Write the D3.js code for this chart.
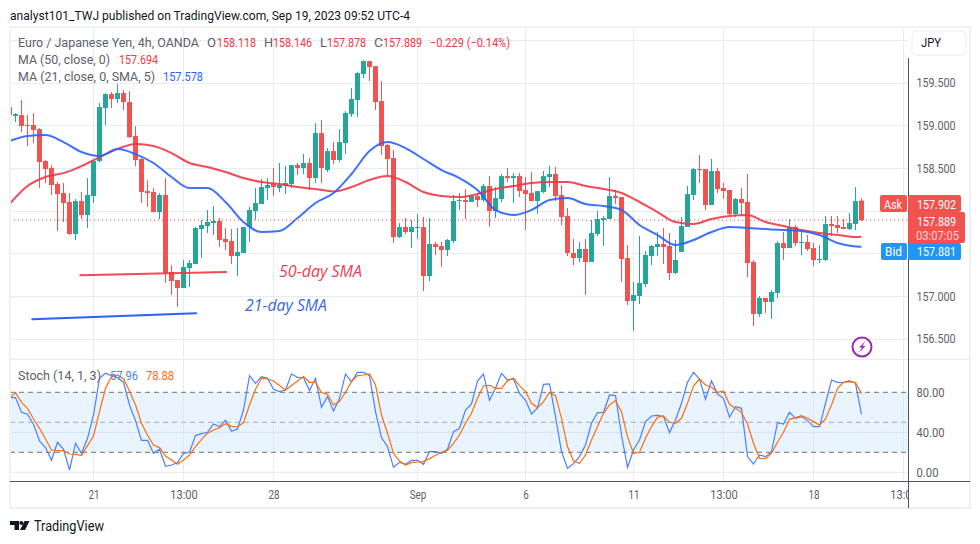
<!DOCTYPE html>
<html><head><meta charset="utf-8">
<script src="https://cdn.jsdelivr.net/npm/d3@7"></script>
<style>html,body{margin:0;padding:0;background:#fff}svg{display:block}text{font-family:Roboto,sans-serif}</style>
</head><body><svg id="c" width="980" height="544"></svg>
<script>
const candleOpen=[159.215,159.110,159.121,159.004,159.004,158.957,158.582,158.500,158.313,158.207,158.102,157.727,158.113,157.949,158.172,158.582,159.203,159.367,159.309,159.379,159.274,158.875,158.606,158.230,158.219,157.984,158.184,157.281,157.187,157.094,157.328,157.375,157.785,157.820,157.855,157.879,157.668,157.644,157.469,157.504,157.809,157.996,158.078,158.266,158.313,158.266,158.289,158.313,158.535,158.500,158.559,158.383,158.910,158.477,158.699,158.594,158.793,159.133,159.297,159.602,159.754,159.695,159.285,158.770,158.617,157.691,157.809,157.750,157.797,157.809,157.234,157.609,157.586,157.539,157.644,158.113,158.125,158.102,158.172,158.125,158.289,157.996,158.137,158.406,158.383,158.406,158.242,158.207,158.113,158.219,158.395,158.430,158.184,157.937,157.504,157.445,157.551,157.399,157.727,157.891,157.902,158.172,158.160,157.445,156.941,157.000,157.140,157.469,157.574,157.609,157.586,157.270,157.516,157.809,158.184,158.488,158.488,158.066,158.465,158.266,158.242,157.961,158.137,158.102,157.399,156.789,156.977,156.930,157.035,157.621,157.562,157.809,157.621,157.633,157.562,157.422,157.422,157.844,157.832,157.809,157.785,157.844,158.118];
const candleHigh=[159.215,159.145,159.297,159.121,159.145,158.969,158.594,158.535,158.336,158.324,158.207,158.137,158.219,158.383,158.594,159.262,159.379,159.391,159.484,159.414,159.402,158.992,158.617,158.359,158.266,158.207,158.383,157.363,157.187,157.422,157.422,157.809,157.891,158.008,158.055,157.914,157.797,157.785,157.797,157.809,158.043,158.266,158.371,158.383,158.500,158.559,158.523,158.535,158.559,158.664,158.617,159.027,159.063,158.734,158.805,158.957,159.168,159.438,159.625,159.766,159.754,159.695,159.520,158.781,158.711,157.855,157.914,157.891,157.961,157.926,157.914,157.633,157.633,157.668,158.184,158.207,158.254,158.184,158.207,158.313,158.406,158.277,158.430,158.500,158.441,158.441,158.395,158.453,158.230,158.465,158.523,158.512,158.301,158.031,157.668,157.633,157.668,157.891,157.996,157.937,158.395,158.242,158.160,157.598,157.164,157.703,157.527,157.598,157.750,157.797,157.738,157.656,157.926,158.289,158.500,158.652,158.488,158.606,158.500,158.324,158.242,158.148,158.266,158.430,157.422,157.000,156.977,157.070,157.644,157.750,157.902,157.832,157.773,157.715,157.621,157.598,157.937,157.937,157.937,157.902,157.973,158.277,158.146];
const candleLow=[159.121,159.039,158.922,158.758,158.793,158.266,158.324,158.184,157.762,157.867,157.715,157.656,157.902,157.797,158.090,158.570,159.004,159.203,159.262,159.180,158.852,158.523,158.090,158.043,157.984,157.902,157.152,157.012,156.871,157.094,157.105,157.375,157.445,157.738,157.715,157.574,157.539,157.375,157.234,157.504,157.633,157.891,158.078,158.125,158.172,158.219,158.195,158.266,158.418,158.430,158.242,158.324,158.324,158.453,158.547,158.570,158.664,159.098,159.098,159.555,159.520,159.180,158.652,158.418,157.621,157.680,157.727,157.562,157.668,157.058,157.176,157.480,157.340,157.469,157.621,158.008,157.902,158.102,158.043,158.102,157.809,157.914,158.102,158.336,158.090,158.160,157.773,158.113,157.961,158.207,158.277,158.113,157.832,157.469,157.363,157.399,157.012,157.399,157.703,157.586,157.902,158.078,157.164,156.895,156.590,156.906,157.105,157.363,157.469,157.375,157.187,157.258,157.516,157.809,158.125,158.324,158.008,158.066,158.207,158.137,157.949,157.926,157.949,157.223,156.648,156.754,156.801,156.730,156.977,157.422,157.562,157.586,157.480,157.527,157.352,157.387,157.410,157.703,157.738,157.785,157.773,157.773,157.878];
const candleClose=[159.121,159.133,158.992,158.992,158.945,158.570,158.488,158.301,158.195,158.090,157.727,158.113,157.949,158.184,158.582,159.215,159.367,159.309,159.379,159.274,158.863,158.594,158.219,158.207,157.984,158.184,157.270,157.176,157.094,157.340,157.387,157.797,157.832,157.867,157.879,157.656,157.633,157.469,157.516,157.809,158.008,158.090,158.277,158.301,158.277,158.301,158.324,158.535,158.500,158.559,158.383,158.910,158.500,158.699,158.594,158.805,159.145,159.309,159.613,159.754,159.684,159.274,158.758,158.606,157.691,157.809,157.750,157.809,157.809,157.234,157.609,157.574,157.539,157.656,158.113,158.125,158.102,158.172,158.125,158.289,157.996,158.148,158.406,158.383,158.406,158.230,158.195,158.113,158.230,158.406,158.430,158.172,157.926,157.504,157.445,157.551,157.399,157.738,157.902,157.914,158.172,158.148,157.434,156.941,157.012,157.152,157.480,157.586,157.609,157.574,157.270,157.422,157.820,158.195,158.488,158.477,158.066,158.465,158.254,158.230,157.961,158.137,158.090,157.387,156.789,156.977,156.930,157.047,157.621,157.562,157.809,157.621,157.633,157.551,157.422,157.434,157.844,157.820,157.797,157.785,157.855,158.113,157.889];
const ma50=[158.078,158.289,158.395,158.441,158.523,158.629,158.723,158.781,158.758,158.676,158.559,158.512,158.453,158.383,158.336,158.313,158.277,158.254,158.225,158.277,158.359,158.406,158.336,158.219,158.172,158.160,158.195,158.254,158.289,158.324,158.336,158.336,158.289,158.254,158.207,158.102,157.984,157.867,157.844,157.902,157.937,157.949,157.867,157.820,157.773,157.738,157.715,157.691,157.694];
const ma21=[158.816,158.875,158.887,158.805,158.688,158.641,158.723,158.664,158.559,158.395,158.266,158.266,158.102,157.867,157.750,157.762,157.914,158.090,158.207,158.430,158.699,158.805,158.734,158.606,158.477,158.383,158.242,158.008,157.949,158.008,158.125,158.148,158.078,158.055,158.008,157.832,157.715,157.598,157.656,157.750,157.809,157.797,157.785,157.773,157.762,157.715,157.621,157.580,157.578];
const stochK=[74.7,74.7,60,58,48,31.3,24.7,12,30,23,2.3,29,19,34,57.3,94,99,96.7,94.7,90,67.3,51.7,32,32,19,23,6,7.3,9.7,19,20,36.7,38.7,40,48.3,45.7,52,41,43.3,62.3,96.7,89,95.7,94,83,80.7,82.3,98.3,95,94.7,81.7,94,65,75.7,61.3,74,98.3,90.7,100,100,96.7,60.7,34.7,25.7,5,10,8,12,12,8,20.7,20.7,19,23,40.7,44,62.3,68.3,91.3,98.3,72,84,99,92.3,93.3,79,72.3,58.3,64,88,88.3,55.7,20.7,4,8.7,15.7,27.3,49,59.7,60,77.3,76.7,37.3,5,22.3,32.3,50.7,56.3,57,55.7,39.7,52.3,69,90,100,93.3,73,91.3,78.3,74,55,65.7,64,15.7,8.3,17.3,15.7,20.7,49.7,48.3,60,54,55.7,51.7,45.7,45.7,69,92.3,90,89.7,91.7,89,57.96];
const stochD=[74,79.7,70,64,53.3,44,33.3,22.3,21.7,21.7,18.3,18,16.7,26.7,36.3,60.7,84,95.7,97.3,93.3,81.3,67.3,49,37.3,27.3,24.7,16.3,12.3,8,12.3,17.3,25.7,33,39,42.3,44.7,48.7,46,45.3,49.7,67.3,83,94,93.3,91.3,86.7,82.3,86.7,91.3,95.7,90,90,79.7,78,67.3,70.7,80,90.7,96.7,97.3,98.3,87.3,57.3,39,19,11.3,7.3,9.7,10.3,10.7,13.7,17,20,22,29,37.3,49,59,74,86.3,87,84,84,91.7,94,86.7,80.7,69,64.7,70.7,79.7,76.7,54,25.7,11.3,9,17.3,32.3,45.7,59,67.3,71.7,60.7,35.7,19,20,34,45.7,55,56.3,50,49,54,69,86.3,93.3,87.3,85,80,81.3,68,64,60,48.3,29,14,13.7,19,30,40,53,54.7,56.7,54,50.7,47.3,53.3,67.3,84,90,90.7,89.7,78.88];
const priceTicks=[160,159.5,159,158.5,158,157.5,157,156.5];
const priceLabels=[159.5,159,158.5,157,156.5];
const stochGrid=[40,0];
const stochLabels=[80,40,0];
const timeIndex=[14,29,44,68,86,104,119,134,149];
const timeLabels=["21","13:00","28","Sep","6","11","13:00","18","13:00"];
const maIndex=d3.range(0,142,3).concat(142);

const GREEN="#26a69a",RED="#f05350",GRID="#e5ecf2",TXT="#5d606b",MAR="#f23645",MAB="#2962ff";
const svg=d3.select("#c");
const x=d3.scaleLinear().domain([0,142]).range([9.5,861.5]);
const y=d3.scaleLinear().domain([157,159.5]).range([296,82.75]);
const s=d3.scaleLinear().domain([0,80]).range([472.3,392.3]);
const L=10,R=908,T=28,B=481;

svg.append("rect").attr("width",980).attr("height",544).attr("fill","#fff");
const defs=svg.append("defs");
defs.append("clipPath").attr("id","plot").append("rect").attr("x",L).attr("y",T).attr("width",R-L).attr("height",B-T);
const dots=defs.append("pattern").attr("id","dots").attr("width",3).attr("height",3).attr("patternUnits","userSpaceOnUse");
dots.append("rect").attr("width",3).attr("height",3).attr("fill","#e9f4fe");
dots.append("rect").attr("width",1).attr("height",1).attr("fill","#e3f1fd");

function lab(g,px,py,str,fill,len,anchor,size){
  const t=g.append("text").attr("x",px).attr("y",py).attr("dy",".36em").attr("fill",fill).attr("font-size",size||12.5).text(str);
  if(anchor)t.attr("text-anchor",anchor);
  if(len)t.attr("textLength",len).attr("lengthAdjust","spacingAndGlyphs");
  return t;
}

// grid
const grid=svg.append("g").attr("stroke",GRID).attr("stroke-width",1);
grid.selectAll("line.v").data(timeIndex).join("line").attr("class","v").attr("x1",d=>x(d)).attr("x2",d=>x(d)).attr("y1",T).attr("y2",B);
grid.selectAll("line.h").data(priceTicks).join("line").attr("class","h").attr("x1",L).attr("x2",R).attr("y1",d=>Math.round(y(d))+.5).attr("y2",d=>Math.round(y(d))+.5);
grid.append("line").attr("x1",L).attr("x2",R).attr("y1",359.5).attr("y2",359.5);

// stochastic band
svg.append("rect").attr("x",L).attr("width",R-L).attr("y",s(80)).attr("height",s(20)-s(80)).attr("fill","url(#dots)");
const sg=svg.append("g").attr("stroke","#d3e5f5");
sg.selectAll("line").data(stochGrid).join("line").attr("x1",L).attr("x2",R).attr("y1",d=>s(d)).attr("y2",d=>s(d)).attr("stroke",d=>d?"#cfe3f5":GRID);
sg.selectAll("line.v2").data(timeIndex).join("line").attr("class","v2").attr("x1",d=>x(d)).attr("x2",d=>x(d)).attr("y1",s(80)).attr("y2",s(20)).attr("stroke","#dbe9f5");
svg.selectAll("line.dash").data([[80,"#6f727d"],[50,"#a9acb5"],[20,"#6f727d"]]).join("line").attr("class","dash")
  .attr("x1",L).attr("x2",R).attr("y1",d=>s(d[0])).attr("y2",d=>s(d[0])).attr("stroke",d=>d[1]).attr("stroke-dasharray","5 4");

const plot=svg.append("g").attr("clip-path","url(#plot)");
// candles
const idx=d3.range(candleOpen.length);
const c=plot.append("g").selectAll("g").data(idx).join("g").attr("fill",i=>candleClose[i]>=candleOpen[i]?GREEN:RED);
c.append("rect").attr("x",i=>x(i)-.5).attr("width",1).attr("y",i=>y(candleHigh[i])).attr("height",i=>y(candleLow[i])-y(candleHigh[i]));
c.append("rect").attr("x",i=>x(i)-2.5).attr("width",5).attr("y",i=>y(Math.max(candleOpen[i],candleClose[i]))).attr("height",i=>Math.max(1,Math.abs(y(candleOpen[i])-y(candleClose[i]))));

// moving averages
const maLine=arr=>d3.line().x((d,i)=>x(maIndex[i])).y(d=>y(d)).curve(d3.curveMonotoneX)(arr);
plot.append("path").attr("d",maLine(ma50)).attr("fill","none").attr("stroke",MAR).attr("stroke-width",2).attr("stroke-opacity",.9);
plot.append("path").attr("d",maLine(ma21)).attr("fill","none").attr("stroke",MAB).attr("stroke-width",2).attr("stroke-opacity",.9);

// price line
plot.append("line").attr("x1",L).attr("x2",R).attr("y1",y(157.889)).attr("y2",y(157.889)).attr("stroke",MAR).attr("stroke-dasharray","1 3");

// stoch
const stLine=d3.line().x((d,i)=>x(i)).y(d=>s(d));
plot.append("path").attr("d",stLine(stochK)).attr("fill","none").attr("stroke","#4d7ffb").attr("stroke-width",1.2);
plot.append("path").attr("d",stLine(stochD)).attr("fill","none").attr("stroke","#ff6d0a").attr("stroke-width",1.2);

// hand-drawn annotations
const ann=svg.append("g").attr("fill","none").attr("stroke-width",2).attr("stroke-linecap","round");
ann.append("line").attr("x1",x(11.8)).attr("y1",y(157.242)).attr("x2",x(36.1)).attr("y2",y(157.281)).attr("stroke",MAR).attr("stroke-opacity",.9);
ann.append("line").attr("x1",x(3.8)).attr("y1",y(156.727)).attr("x2",x(31.1)).attr("y2",y(156.797)).attr("stroke",MAB);
const atext=(px,py,str,col,len)=>svg.append("text").attr("x",px).attr("y",py).attr("dy",".36em").attr("font-style","italic").attr("font-size",16).attr("fill",col)
  .attr("textLength",len).attr("lengthAdjust","spacingAndGlyphs").style("font-family","'Open Sans',sans-serif").text(str);
atext(279,271,"50-day SMA","#f0404f",83);
atext(245,305,"21-day SMA","#3a68e8",82);

// frame
const frame=svg.append("g").attr("fill","none").attr("stroke","#eef1f6").attr("stroke-width",2);
frame.append("rect").attr("x",10).attr("y",27).attr("width",960).attr("height",481);
svg.append("line").attr("x1",L).attr("x2",970).attr("y1",481.5).attr("y2",481.5).attr("stroke","#50535e");
svg.append("line").attr("x1",908.5).attr("x2",908.5).attr("y1",58).attr("y2",508).attr("stroke","#50535e");
svg.append("line").attr("x1",909).attr("x2",969).attr("y1",359.5).attr("y2",359.5).attr("stroke",GRID);

// axes
const ax=svg.append("g").attr("transform","translate(908,0)").call(d3.axisRight(y).tickValues(priceLabels).tickFormat(d3.format(".3f")).tickSize(0).tickPadding(8.5));
ax.select(".domain").remove();
ax.selectAll("text").attr("font-size",12.5).attr("font-family","Roboto,sans-serif").attr("fill",TXT).attr("textLength",39).attr("lengthAdjust","spacingAndGlyphs");
const ax2=svg.append("g").attr("transform","translate(908,0)").call(d3.axisRight(s).tickValues(stochLabels).tickFormat(d3.format(".2f")).tickSize(0).tickPadding(8.5));
ax2.select(".domain").remove();
ax2.selectAll("text").attr("font-size",12.5).attr("font-family","Roboto,sans-serif").attr("fill",TXT).attr("textLength",d=>d?28:22).attr("lengthAdjust","spacingAndGlyphs");
defs.append("clipPath").attr("id","txc").append("rect").attr("x",L).attr("y",0).attr("width",R-L).attr("height",30);
const axT=svg.append("g").attr("transform",`translate(0,${B})`).attr("clip-path","url(#txc)");
axT.call(d3.axisBottom(x).tickValues(timeIndex).tickFormat((d,i)=>timeLabels[i]).tickSize(0).tickPadding(9));
axT.select(".domain").remove();
axT.selectAll("text").attr("font-size",12.5).attr("font-family","Roboto,sans-serif").attr("fill",TXT).attr("textLength",(d,i)=>timeLabels[i].length*5.5).attr("lengthAdjust","spacingAndGlyphs");

// title + legends
const heading=svg.append("g");
lab(heading,10,15,"analyst101_TWJ published on TradingView.com, Sep 19, 2023 09:52 UTC-4","#131722",400,null,13);
const leg=svg.append("g");
lab(leg,18,42,"Euro / Japanese Yen, 4h, OANDA",TXT,181);
lab(leg,207,42,"O",TXT,9);lab(leg,217,42,candleOpen[142].toFixed(3),MAR,39);
lab(leg,264,42,"H",TXT,9);lab(leg,273,42,candleHigh[142].toFixed(3),MAR,39);
lab(leg,320,42,"L",TXT,7);lab(leg,327,42,candleLow[142].toFixed(3),MAR,39);
lab(leg,374,42,"C",TXT,9);lab(leg,383,42,candleClose[142].toFixed(3),MAR,39);
lab(leg,430,42,"−0.229 (−0.14%)",MAR,80);
lab(leg,18,59,"MA (50, close, 0)",TXT,92);lab(leg,119,59,ma50[ma50.length-1].toFixed(3),MAR,39);
lab(leg,18,76,"MA (21, close, 0, SMA, 5)",TXT,137);lab(leg,163,76,ma21[ma21.length-1].toFixed(3),MAB,40);
lab(leg,18,375,"Stoch (14, 1, 3)",TXT,83);lab(leg,110,375,stochK[142].toFixed(2),"#4d7ffb",28);lab(leg,146,375,stochD[142].toFixed(2),"#ff6d0a",28);

// JPY button
svg.append("rect").attr("x",912).attr("y",31).attr("width",54).attr("height",24).attr("rx",5).attr("fill","#fff").attr("stroke","#e9ecf2");
lab(svg,921,42,"JPY","#131722",20);

// price tags
const tag=(px,py,w,h,col)=>svg.append("rect").attr("x",px).attr("y",py).attr("width",w).attr("height",h).attr("rx",2).attr("fill",col);
tag(880,195,27,17,RED);tag(908,195,53,17,RED);
tag(908,212,57,31,RED);
tag(881,243,26,17,"#2196f3");tag(908,243,53,17,"#2196f3");
lab(svg,884,204,"Ask","#fff",18);lab(svg,917,204,"157.902","#fff",39);
lab(svg,917,221,"157.889","#fff",39);lab(svg,916,235,"03:07:05","#fbd0d0",43);
lab(svg,885,251,"Bid","#fff",17);lab(svg,917,251,"157.881","#fff",39);

// flash icon
const fl=svg.append("g").attr("transform","translate(862,347)");
fl.append("circle").attr("r",9.5).attr("fill","#fff").attr("stroke","#9c27b0").attr("stroke-width",2);
fl.append("path").attr("d","M3.5,-6 L-3,0.5 L0,0.5 L-3.5,6 L3.5,-1 L0.5,-1 Z").attr("fill","#9c27b0");

// logo
const logo=svg.append("g").attr("fill","#131722");
logo.append("path").attr("d","M10,521 H19 V530 H14.5 V525 H10 Z");
logo.append("circle").attr("cx",21.3).attr("cy",523).attr("r",2);
logo.append("path").attr("d","M24.5,521 H29.5 L25,530 H20 Z");
lab(svg,34,526,"TradingView","#131722",70,null,14);
</script></body></html>
